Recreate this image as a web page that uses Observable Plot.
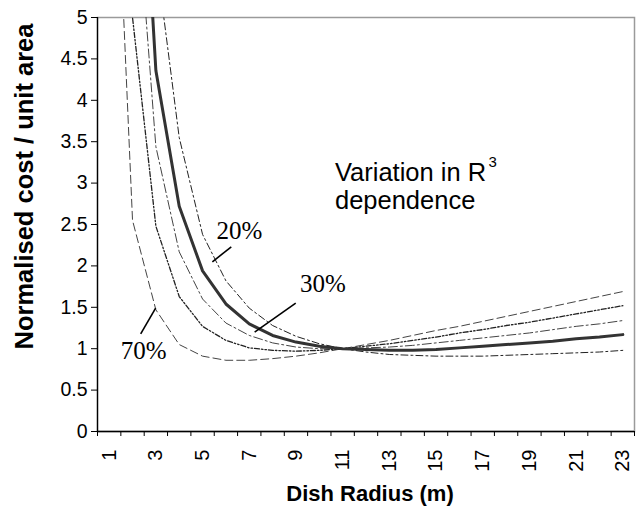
<!DOCTYPE html>
<html><head><meta charset="utf-8">
<script src="https://cdn.jsdelivr.net/npm/d3@7"></script>
<script src="https://cdn.jsdelivr.net/npm/@observablehq/plot@0.6"></script>
<style>body{margin:0;background:#fff}svg{display:block}</style>
</head><body><div id="chart"></div>
<script>
// Dish radius categories (m)
const radius = [1,2,3,4,5,6,7,8,9,10,11,12,13,14,15,16,17,18,19,20,21,22,23];
// Normalised cost / unit area for each variation of the R^3 dependence
const cost20 = [48.4,12.39,5.75,3.55,2.38,1.82,1.49,1.28,1.15,1.06,1.00,0.96,0.93,0.92,0.91,0.91,0.91,0.92,0.93,0.94,0.95,0.96,0.98];
const cost30 = [35.4,9.17,4.36,2.72,1.94,1.54,1.30,1.16,1.08,1.03,1.00,0.99,0.98,0.98,0.99,1.01,1.03,1.05,1.07,1.09,1.12,1.14,1.17];
const cost40 = [27.4,7.14,3.44,2.17,1.60,1.31,1.16,1.07,1.02,1.00,1.00,1.01,1.02,1.04,1.07,1.10,1.13,1.16,1.19,1.23,1.27,1.30,1.34];
const cost50 = [18.85,5.00,2.48,1.63,1.27,1.10,1.01,0.98,0.97,0.98,1.00,1.03,1.06,1.10,1.14,1.19,1.23,1.28,1.32,1.37,1.42,1.47,1.52];
const cost70 = [9.03,2.55,1.47,1.05,0.91,0.86,0.86,0.88,0.91,0.95,1.00,1.05,1.10,1.16,1.22,1.27,1.33,1.39,1.45,1.51,1.57,1.63,1.69];
// Axis ticks
const yTicks = [0,0.5,1,1.5,2,2.5,3,3.5,4,4.5,5];
const xLabels = [1,3,5,7,9,11,13,15,17,19,21,23];
const xBounds = [0.5,1.5,2.5,3.5,4.5,5.5,6.5,7.5,8.5,9.5,10.5,11.5,12.5,13.5,14.5,15.5,16.5,17.5,18.5,19.5,20.5,21.5,22.5,23.5];
// Texts
const xTitle = "Dish Radius (m)";
const yTitle = "Normalised cost / unit area";
const noteLines = [{x:10.67, y:3.02, t:"Variation in R"}, {x:10.67, y:2.69, t:"dependence"}];
const noteSup = [{x:17.25, y:3.19, t:"3"}];
const pctLabels = [{x:5.6, y:2.32, t:"20%"}, {x:9.17, y:1.69, t:"30%"}, {x:1.5, y:0.875, t:"70%"}];
const pointers = [
  {x1:5.42, y1:2.05, x2:6.23, y2:2.23},
  {x1:8.99, y1:1.55, x2:7.23, y2:1.20},
  {x1:2.99, y1:1.49, x2:2.35, y2:1.18}
];

const toRows = arr => radius.map((r, i) => ({r, v: arr[i]}));
const FONT = "Liberation Sans, Arial, Helvetica, sans-serif";

const chart = Plot.plot({
  width: 639,
  height: 507,
  marginLeft: 97,
  marginRight: 5,
  marginTop: 17,
  marginBottom: 76,
  style: {fontFamily: FONT, fontSize: "19px", color: "#000", background: "#fff"},
  x: {type: "linear", domain: [0.5, 23.5], label: null},
  y: {type: "linear", domain: [0, 5], label: null},
  marks: [
    Plot.frame({stroke: "#9a9a9a", strokeWidth: 1.5}),
    Plot.line(toRows(cost70), {x: "r", y: "v", stroke: "#444", strokeWidth: 1, strokeDasharray: "8,4", clip: true}),
    Plot.line(toRows(cost50), {x: "r", y: "v", stroke: "#222", strokeWidth: 1.3, strokeDasharray: "5,2,1.5,2,1.5,2", clip: true}),
    Plot.line(toRows(cost40), {x: "r", y: "v", stroke: "#444", strokeWidth: 1, strokeDasharray: "9,3,2,3", clip: true}),
    Plot.line(toRows(cost20), {x: "r", y: "v", stroke: "#222", strokeWidth: 1, strokeDasharray: "7,3,2,3", clip: true}),
    Plot.line(toRows(cost30), {x: "r", y: "v", stroke: "#333", strokeWidth: 3, clip: true}),
    Plot.ruleY([0], {stroke: "#000", strokeWidth: 1.3}),
    Plot.ruleX([0.5], {stroke: "#000", strokeWidth: 1.3}),
    Plot.axisY({ticks: yTicks, tickSize: 6, tickPadding: 4, tickFormat: d => String(d), fontSize: 19.5, stroke: "#000", label: null}),
    Plot.axisX({ticks: xBounds, tickSize: 5, tickFormat: () => "", stroke: "#000", label: null}),
    Plot.axisX({ticks: xLabels, tickSize: 0, tickPadding: 18, tickRotate: -90, tickFormat: d => String(d), fontSize: 20, label: null}),
    Plot.link(pointers, {x1: "x1", y1: "y1", x2: "x2", y2: "y2", stroke: "#000", strokeWidth: 1.6}),
    Plot.text(pctLabels, {x: "x", y: "y", text: "t", textAnchor: "start", lineAnchor: "bottom", fontSize: 25, fontFamily: "Liberation Serif, Times New Roman, serif", fill: "#000"}),
    Plot.text(noteLines, {x: "x", y: "y", text: "t", textAnchor: "start", lineAnchor: "bottom", fontSize: 25.5, fill: "#000"}),
    Plot.text(noteSup, {x: "x", y: "y", text: "t", textAnchor: "start", lineAnchor: "bottom", fontSize: 15, fill: "#000"}),
    Plot.text([xTitle], {text: d => d, frameAnchor: "bottom", lineAnchor: "bottom", dx: 4, dy: 69, fontSize: 22, fontWeight: "bold", fill: "#000"}),
    Plot.text([yTitle], {text: d => d, frameAnchor: "left", textAnchor: "middle", lineAnchor: "middle", rotate: -90, dx: -73, dy: -38, fontSize: 25.5, fontWeight: "bold", fill: "#000"})
  ]
});
document.getElementById("chart").appendChild(chart);
</script>
</body></html>
